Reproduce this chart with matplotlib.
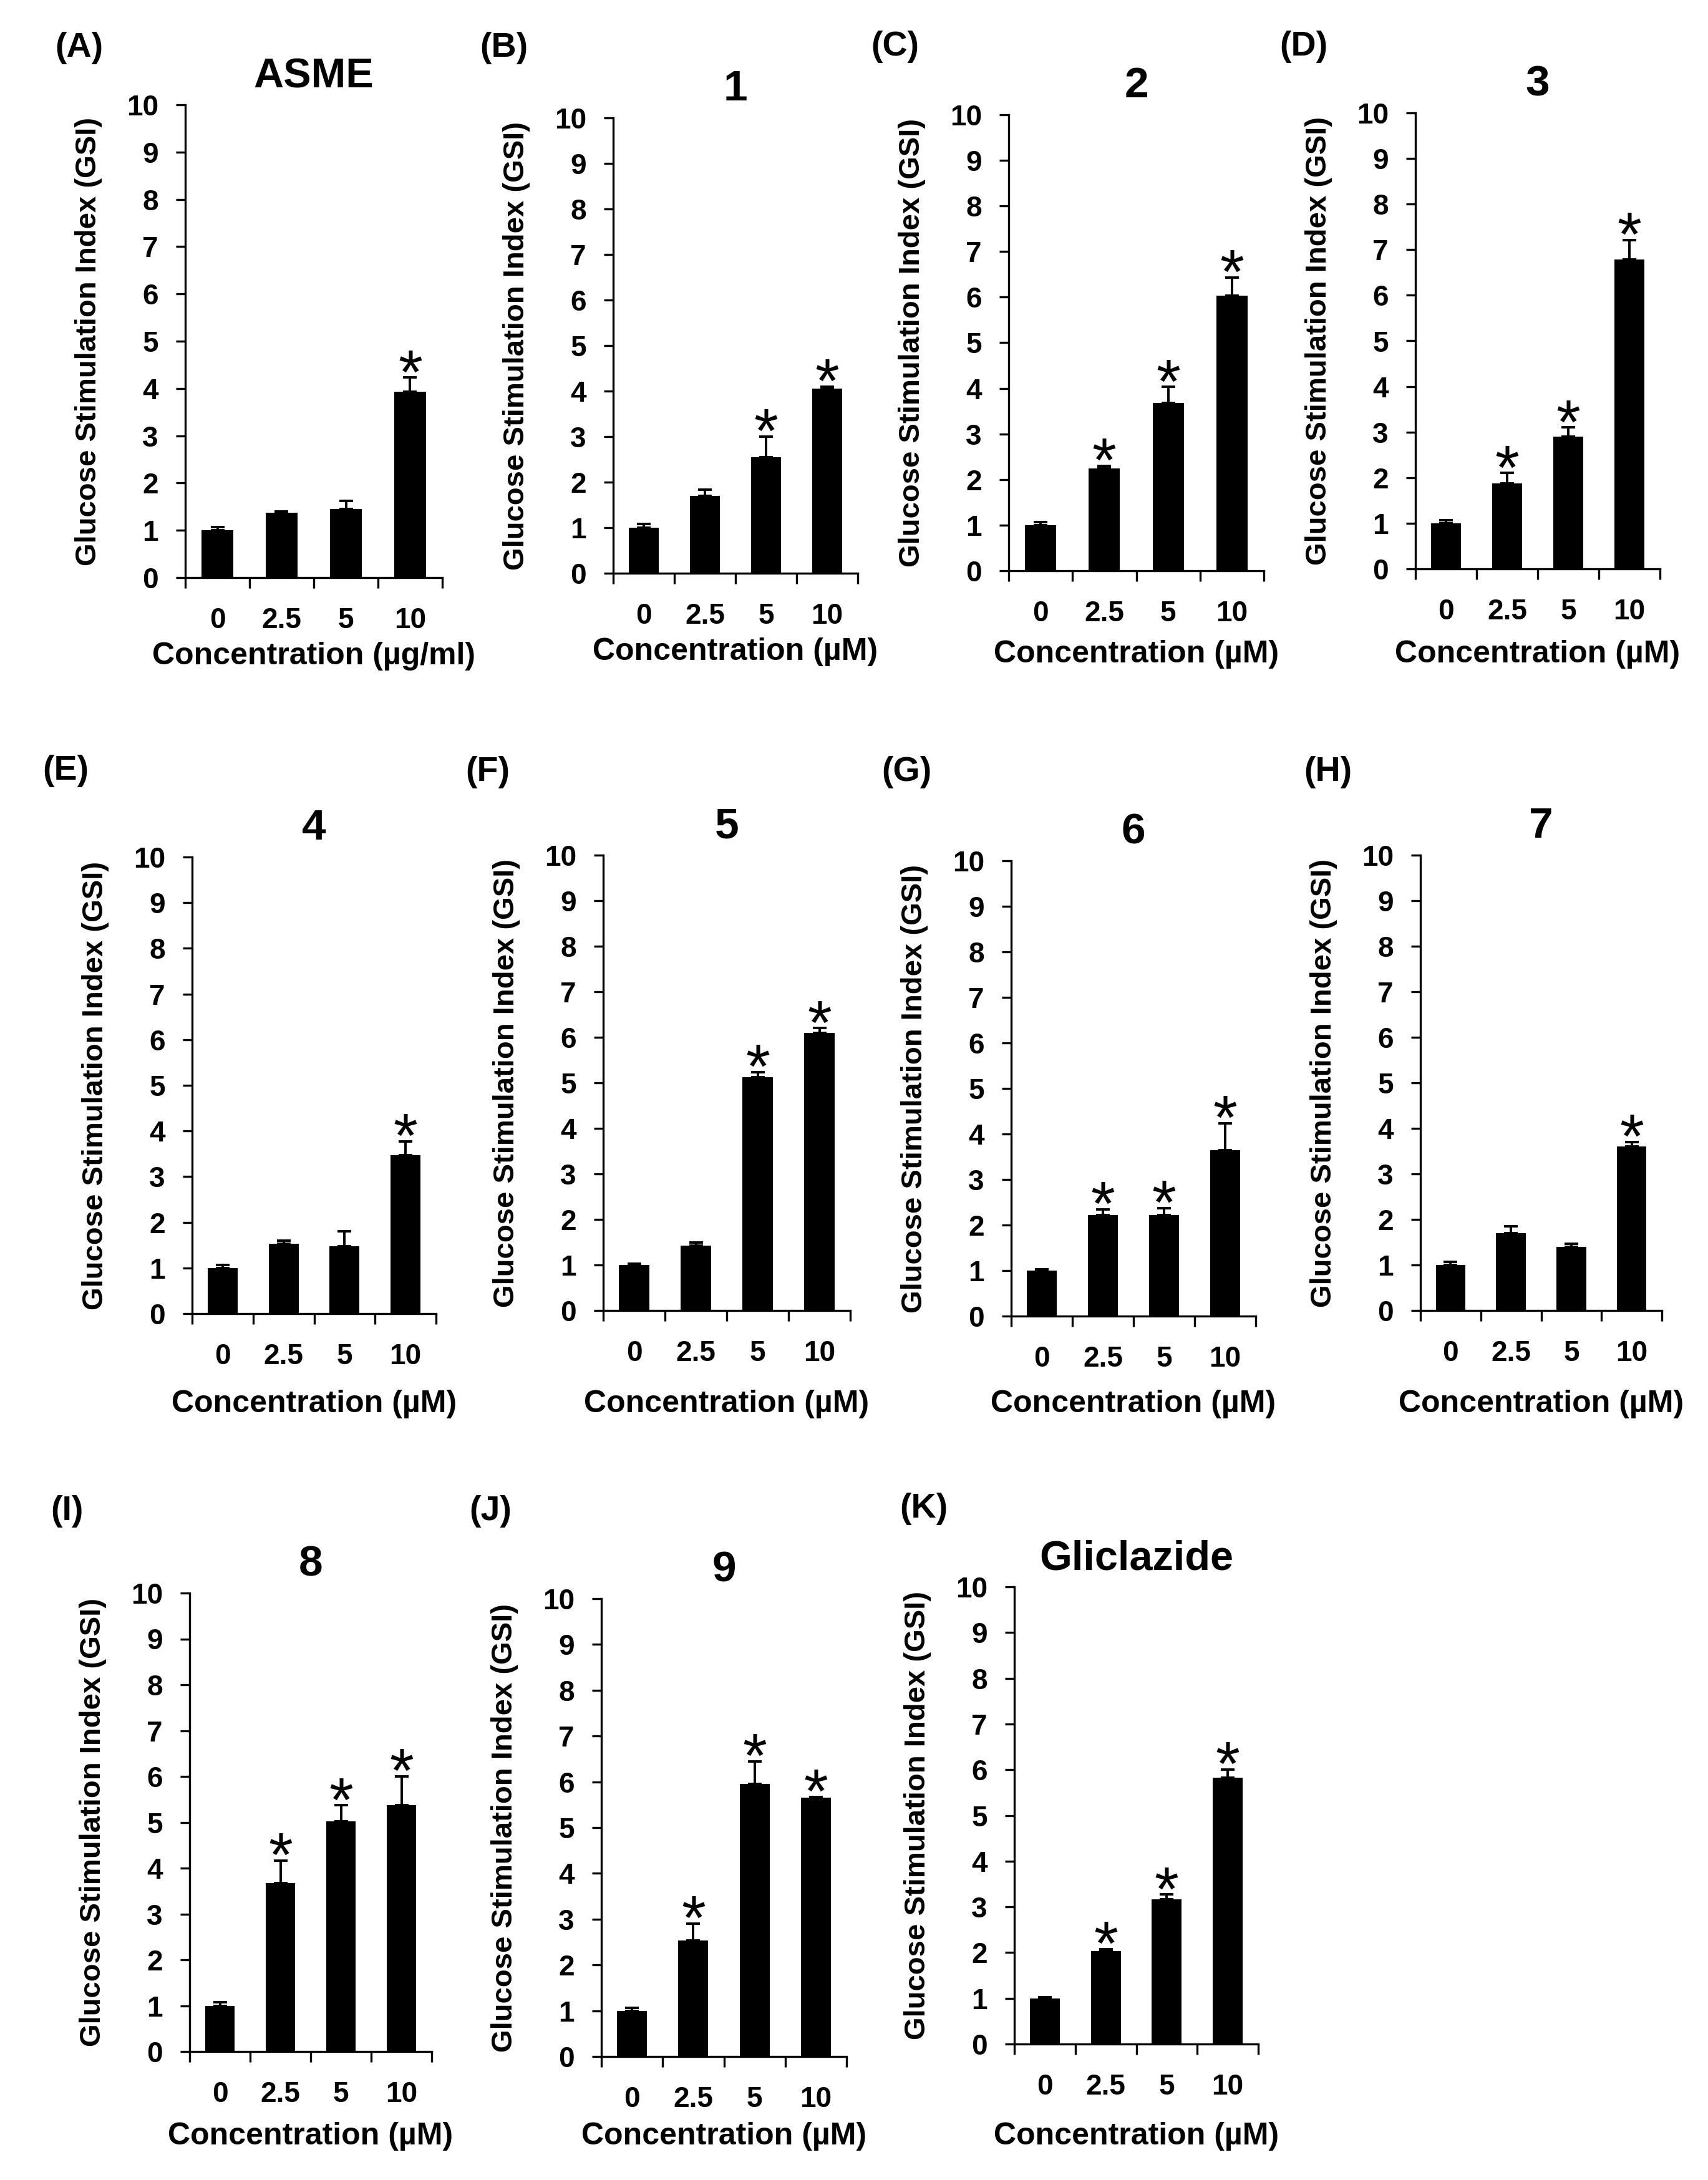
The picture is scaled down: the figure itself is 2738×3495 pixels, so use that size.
import matplotlib
matplotlib.use("Agg")
import matplotlib.pyplot as plt

# concentrations tested for every compound
concentrations = ["0", "2.5", "5", "10"]

# mean GSI and upper error per compound
asme = [1.00, 1.37, 1.45, 3.93]
asme_err = [0.07, 0.03, 0.17, 0.30]
cpd1 = [1.00, 1.70, 2.55, 4.05]
cpd1_err = [0.08, 0.13, 0.45, 0.05]
cpd2 = [1.00, 2.25, 3.68, 6.03]
cpd2_err = [0.07, 0.05, 0.35, 0.40]
cpd3 = [1.00, 1.87, 2.90, 6.78]
cpd3_err = [0.07, 0.23, 0.20, 0.43]
cpd4 = [1.00, 1.53, 1.47, 3.47]
cpd4_err = [0.07, 0.07, 0.33, 0.30]
cpd5 = [1.00, 1.43, 5.13, 6.10]
cpd5_err = [0.03, 0.07, 0.10, 0.10]
cpd6 = [1.00, 2.22, 2.22, 3.65]
cpd6_err = [0.03, 0.12, 0.15, 0.58]
cpd7 = [1.00, 1.70, 1.40, 3.60]
cpd7_err = [0.07, 0.15, 0.07, 0.10]
cpd8 = [1.00, 3.67, 5.02, 5.37]
cpd8_err = [0.07, 0.50, 0.35, 0.63]
cpd9 = [1.00, 2.53, 5.95, 5.65]
cpd9_err = [0.06, 0.37, 0.50, 0.02]
gliclazide = [1.00, 2.03, 3.17, 5.83]
gliclazide_err = [0.03, 0.04, 0.10, 0.17]

# which concentrations carry a significance star
asme_sig = [0, 0, 0, 1]
cpd1_sig = [0, 0, 1, 1]
cpd2_sig = [0, 1, 1, 1]
cpd3_sig = [0, 1, 1, 1]
cpd4_sig = [0, 0, 0, 1]
cpd5_sig = [0, 0, 1, 1]
cpd6_sig = [0, 1, 1, 1]
cpd7_sig = [0, 0, 0, 1]
cpd8_sig = [0, 1, 1, 1]
cpd9_sig = [0, 1, 1, 1]
gliclazide_sig = [0, 1, 1, 1]

titles = ["ASME", "1", "2", "3", "4", "5", "6", "7", "8", "9", "Gliclazide"]
letters = ["(A)", "(B)", "(C)", "(D)", "(E)", "(F)", "(G)", "(H)", "(I)", "(J)", "(K)"]
units = ["µg/ml"] + ["µM"] * 10

means = [asme, cpd1, cpd2, cpd3, cpd4, cpd5, cpd6, cpd7, cpd8, cpd9, gliclazide]
errors = [asme_err, cpd1_err, cpd2_err, cpd3_err, cpd4_err, cpd5_err, cpd6_err,
          cpd7_err, cpd8_err, cpd9_err, gliclazide_err]
stars = [asme_sig, cpd1_sig, cpd2_sig, cpd3_sig, cpd4_sig, cpd5_sig, cpd6_sig,
         cpd7_sig, cpd8_sig, cpd9_sig, gliclazide_sig]

W, H = 2738, 3495
# axes boxes in pixels: left, top, right, bottom
boxes = [
    (297, 168, 709, 926), (983, 189, 1375, 919), (1617, 184, 2026, 915), (2269, 181, 2661, 912),
    (308, 1374, 699, 2106), (967, 1371, 1363, 2101), (1621, 1380, 2013, 2110), (2277, 1371, 2664, 2101),
    (304, 2554, 692, 3289), (964, 2563, 1357, 3297), (1626, 2544, 2017, 3277),
]
letter_pos = [(127, 77), (808, 77), (1435, 75), (2090, 75),
              (105, 1236), (782, 1238), (1453, 1238), (2129, 1238),
              (107, 2423), (786, 2423), (1481, 2419)]
xlabel_gap = [126, 126, 134, 137, 145, 150, 141, 150, 136, 128, 148]

plt.rcParams["font.family"] = ["Liberation Sans", "DejaVu Sans"]

fig = plt.figure(figsize=(W / 100, H / 100), dpi=100)

for i, (l, t, r, b) in enumerate(boxes):
    ax = fig.add_axes([l / W, 1 - b / H, (r - l) / W, (b - t) / H])
    x = [k + 0.5 for k in range(len(concentrations))]
    ax.bar(x, means[i], width=0.49, color="black", zorder=2)
    ax.errorbar(x, means[i], yerr=[[0] * 4, errors[i]], fmt="none", ecolor="black",
                elinewidth=2.8, capsize=8, capthick=2.8, zorder=3)
    for k in range(4):
        if stars[i][k]:
            ax.annotate("*", xy=(x[k], means[i][k] + errors[i][k]), xytext=(0, -18),
                        textcoords="offset points", ha="center", va="baseline",
                        fontsize=72)

    ax.set_xlim(0, 4)
    ax.set_ylim(0, 10)
    for side in ("top", "right"):
        ax.spines[side].set_visible(False)
    for side in ("left", "bottom"):
        ax.spines[side].set_linewidth(2.4)

    ax.set_yticks(range(11))
    ax.set_yticklabels([str(v) for v in range(11)], fontsize=33, fontweight="bold")
    ax.tick_params(axis="y", direction="out", length=11, width=2.4, pad=20)
    ax.set_xticks(range(5))
    ax.set_xticklabels([])
    ax.tick_params(axis="x", which="major", direction="out", length=12, width=2.4)
    ax.set_xticks(x, minor=True)
    ax.set_xticklabels(concentrations, minor=True, fontsize=33, fontweight="bold")
    ax.tick_params(axis="x", which="minor", length=0, pad=34)

    ax.set_ylabel("Glucose Stimulation Index (GSI)", fontsize=34, fontweight="bold")
    ax.yaxis.set_label_coords(-155 / (r - l), 0.5)
    ax.yaxis.label.set_va("center")
    ax.set_xlabel(f"Concentration ({units[i]})", fontsize=36, fontweight="bold")
    ax.xaxis.set_label_coords(0.5, -xlabel_gap[i] / (b - t))
    ax.xaxis.label.set_va("center")

    title_size = 48 if len(titles[i]) > 1 else 50
    ax.set_title(titles[i], fontsize=title_size, fontweight="bold", pad=20)

    lx, ly = letter_pos[i]
    fig.text(lx / W, 1 - ly / H, letters[i], fontsize=40, fontweight="bold",
             ha="center", va="center")

fig.savefig("out.png", dpi=100, facecolor="white")
